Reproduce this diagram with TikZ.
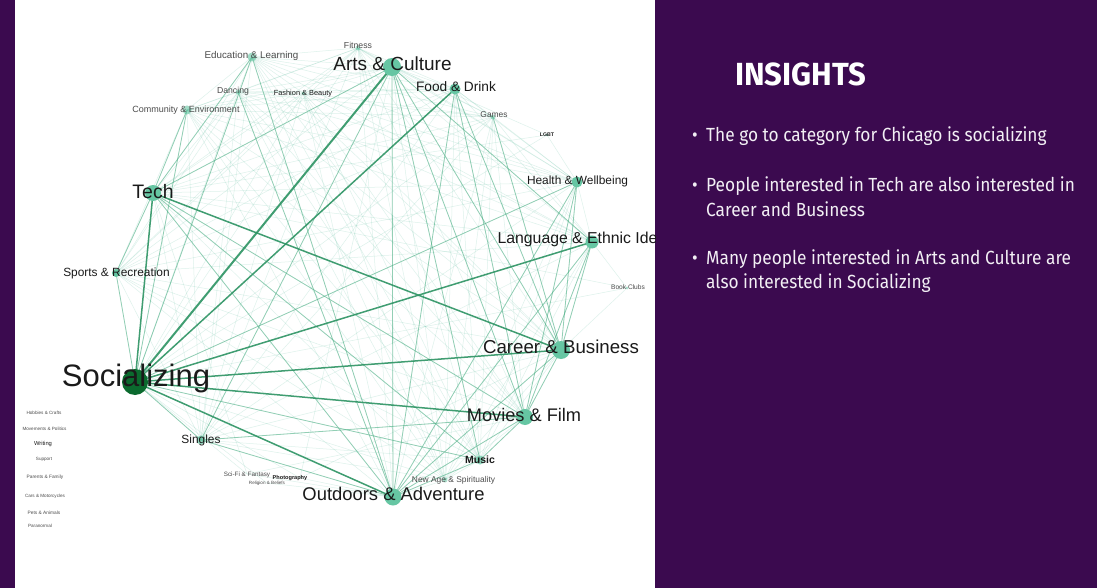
\documentclass[tikz,border=0pt]{standalone}
\usepackage{fontspec}
\setmainfont{Liberation Sans}
\newfontfamily\insfont[FakeStretch=0.91]{Fira Sans}
\newfontfamily\insbold[FakeStretch=0.97]{Fira Sans Bold}
\definecolor{purp}{HTML}{3B0A4F}
\definecolor{eg}{HTML}{66C2A5}
\definecolor{eg2}{HTML}{4DAF84}
\definecolor{eg3}{HTML}{2E9464}
\definecolor{ng}{HTML}{66C6A3}
\definecolor{sg}{HTML}{0B6A2E}
\definecolor{ink}{HTML}{1A1A1A}
\definecolor{insw}{HTML}{F2EFF4}
\newcommand\fsz[1]{\fontsize{#1}{#1}\selectfont}
\tikzset{
  edgeF/.style={draw=eg, opacity=0.22, line width=0.5pt},
  edgeM/.style={draw=eg2, opacity=0.55, line width=0.8pt},
  edgeS/.style={draw=eg3, opacity=0.9, line width=1.5pt},
  vtx/.style={circle, fill=ng, inner sep=0pt, minimum size=#1},
  lbl/.style={inner sep=0pt, anchor=base, text=ink},
  small/.style={inner sep=0pt, anchor=base, text=black!70},
  ins/.style={inner sep=0pt, anchor=base west, text=insw, font=\insfont\fsz{19}},
  bul/.style={inner sep=0pt, anchor=base west, text=insw, font=\insfont\fsz{19}}
}
\begin{document}
\begin{tikzpicture}[x=1pt,y=-1pt]
\useasboundingbox (0,0) rectangle (1097,588);
\fill[purp] (0,0) rectangle (1097,588);
\fill[white] (15,0) rectangle (655,588);
\begin{scope}
\clip (15,0) rectangle (655,588);
% positions
\coordinate (soc) at (135,382);
\coordinate (tech) at (153,193);
\coordinate (sports) at (116,273);
\coordinate (arts) at (392,67);
\coordinate (food) at (455,89);
\coordinate (games) at (493,117);
\coordinate (lgbt) at (547,135);
\coordinate (health) at (577,182);
\coordinate (lang) at (592,242);
\coordinate (book) at (627,288);
\coordinate (career) at (561,350);
\coordinate (movies) at (525,417);
\coordinate (music) at (480,460);
\coordinate (newage) at (445,480);
\coordinate (outdoors) at (393,497);
\coordinate (singles) at (201,440);
\coordinate (edu) at (252,57);
\coordinate (danc) at (238,92);
\coordinate (comm) at (187,110);
\coordinate (fit) at (358,48);
\coordinate (fash) at (303,93);
\coordinate (scifi) at (247,474);
\coordinate (photo) at (300,478);
\coordinate (relig) at (267,483);
% faint complete web
\def\mainlist{soc,tech,arts,food,health,lang,career,movies,outdoors,music,singles,sports,edu,comm,danc,games,newage,fit,fash}
\foreach \a [count=\i] in \mainlist {
  \foreach \b [count=\j] in \mainlist {
    \ifnum\i<\j \draw[edgeF] (\a) -- (\b); \fi
  }
}
\foreach \a/\b in {lgbt/health,lgbt/soc,lgbt/arts,lgbt/tech,book/soc,book/career,book/lang,book/tech,
  scifi/soc,scifi/movies,scifi/outdoors,scifi/tech,photo/arts,photo/outdoors,photo/soc,photo/career,relig/soc,relig/outdoors}
  \draw[edgeF] (\a) -- (\b);
% medium edges
\foreach \a/\b in {arts/outdoors,arts/movies,arts/career,arts/music,arts/tech,arts/singles,arts/lang,
  food/outdoors,food/movies,food/career,tech/movies,tech/outdoors,tech/music,tech/sports,
  soc/health,soc/music,soc/singles,soc/sports,soc/edu,soc/comm,health/outdoors,health/movies,
  lang/outdoors,lang/movies,career/outdoors,movies/outdoors,career/movies,lang/career,health/career,
  music/outdoors,music/movies,singles/outdoors,singles/movies,edu/tech,comm/tech,edu/outdoors,
  danc/outdoors,games/career}
  \draw[edgeM] (\a) -- (\b);
% strong edges
\foreach \a/\b in {soc/tech,soc/career,soc/movies,soc/outdoors,tech/career,soc/lang,soc/food}
  \draw[edgeS] (\a) -- (\b);
\draw[edgeS, line width=2pt] (soc) -- (arts);
% vertices
\node[vtx=26pt, fill=sg] (socv) at (soc) {};
\node[vtx=16pt] (techv) at (tech) {};
\node[vtx=8pt] (sportsv) at (sports) {};
\node[vtx=18pt] (artsv) at (arts) {};
\node[vtx=11pt] (foodv) at (food) {};
\node[vtx=5pt, opacity=0.5] (gamesv) at (games) {};
\node[vtx=3pt, opacity=0.5] (lgbtv) at (lgbt) {};
\node[vtx=11pt] (healthv) at (health) {};
\node[vtx=13pt] (langv) at (lang) {};
\node[vtx=3pt, opacity=0.5] (bookv) at (book) {};
\node[vtx=18pt] (careerv) at (career) {};
\node[vtx=16pt] (moviesv) at (movies) {};
\node[vtx=9pt, opacity=0.7] (musicv) at (music) {};
\node[vtx=5pt, opacity=0.5] (newagev) at (newage) {};
\node[vtx=17pt] (outdoorsv) at (outdoors) {};
\node[vtx=9pt, opacity=0.7] (singlesv) at (singles) {};
\node[vtx=9pt, opacity=0.6] (eduv) at (edu) {};
\node[vtx=5pt, opacity=0.5] (dancv) at (danc) {};
\node[vtx=9pt, opacity=0.6] (commv) at (comm) {};
\node[vtx=5pt, opacity=0.5] (fitv) at (fit) {};
\node[vtx=3pt, opacity=0.5] (fashv) at (fash) {};
% labels
\node[lbl, font=\fsz{31}] (soc-l) at (136,386) {Socializing};
\node[lbl, font=\fsz{19.5}] (tech-l) at (153,198) {Tech};
\node[lbl, font=\fsz{11.9}] (sports-l) at (116.5,276) {Sports \& Recreation};
\node[lbl, font=\fsz{19}] (arts-l) at (392.5,71) {Arts \& Culture};
\node[lbl, font=\fsz{13.7}] (food-l) at (456,92) {Food \& Drink};
\node[small, font=\fsz{8.4}] (games-l) at (494,118) {Games};
\node[lbl, font=\bfseries\fsz{5.2}] (lgbt-l) at (547,137) {LGBT};
\node[lbl, font=\fsz{11.9}] (health-l) at (577.5,185) {Health \& Wellbeing};
\node[lbl, font=\fsz{15.8}] (lang-l) at (592,243) {Language \& Ethnic Identity};
\node[small, font=\fsz{6.6}] (book-l) at (628,289) {Book Clubs};
\node[lbl, font=\fsz{18.7}] (career-l) at (561,353) {Career \& Business};
\node[lbl, font=\fsz{18.2}] (movies-l) at (524,421) {Movies \& Film};
\node[lbl, font=\bfseries\fsz{10.5}] (music-l) at (480,463) {Music};
\node[small, font=\fsz{8.4}] (newage-l) at (453.5,482) {New Age \& Spirituality};
\node[lbl, font=\fsz{18.4}] (outdoors-l) at (393.5,500) {Outdoors \& Adventure};
\node[lbl, font=\fsz{11.9}] (singles-l) at (201,443) {Singles};
\node[small, font=\fsz{6.3}] (scifi-l) at (247,476) {Sci-Fi \& Fantasy};
\node[lbl, font=\bfseries\fsz{5.6}] (photo-l) at (290,479) {Photography};
\node[small, font=\fsz{4.6}] (relig-l) at (267,484) {Religion \& Beliefs};
\node[small, font=\fsz{9.8}] (edu-l) at (251.5,59) {Education \& Learning};
\node[small, font=\fsz{8.7}] (danc-l) at (233,94) {Dancing};
\node[lbl, font=\fsz{7.4}] (fash-l) at (303,96) {Fashion \& Beauty};
\node[small, font=\fsz{9}] (comm-l) at (186,113) {Community \& Environment};
\node[small, font=\fsz{8.7}] (fit-l) at (358,49) {Fitness};
% isolated small categories
\node[small, font=\fsz{4.6}] (hob-l) at (44,414) {Hobbies \& Crafts};
\node[small, font=\fsz{4.6}] (mov-l) at (44.5,430) {Movements \& Politics};
\node[lbl, font=\fsz{5.8}] (wri-l) at (43,445) {Writing};
\node[small, font=\fsz{4.6}] (sup-l) at (44,460) {Support};
\node[small, font=\fsz{4.8}] (par-l) at (45,478) {Parents \& Family};
\node[small, font=\fsz{4.6}] (car-l) at (45,497) {Cars \& Motorcycles};
\node[small, font=\fsz{4.8}] (pet-l) at (44,514) {Pets \& Animals};
\node[small, font=\fsz{4.6}] (par2-l) at (40,527) {Paranormal};
\end{scope}
% insights panel
\node[inner sep=0pt, anchor=base west, text=white, font=\insbold\fsz{32}] (title) at (735,86) {INSIGHTS};
\node[bul] (b1) at (692,142) {•};
\node[ins] (t1) at (706,142) {The go to category for Chicago is socializing};
\node[bul] (b2) at (692,192) {•};
\node[ins] (t2a) at (706,192) {People interested in Tech are also interested in};
\node[ins] (t2b) at (706,216) {Career and Business};
\node[bul] (b3) at (692,264) {•};
\node[ins] (t3a) at (706,264) {Many people interested in Arts and Culture are};
\node[ins] (t3b) at (706,288) {also interested in Socializing};
\end{tikzpicture}
\end{document}
